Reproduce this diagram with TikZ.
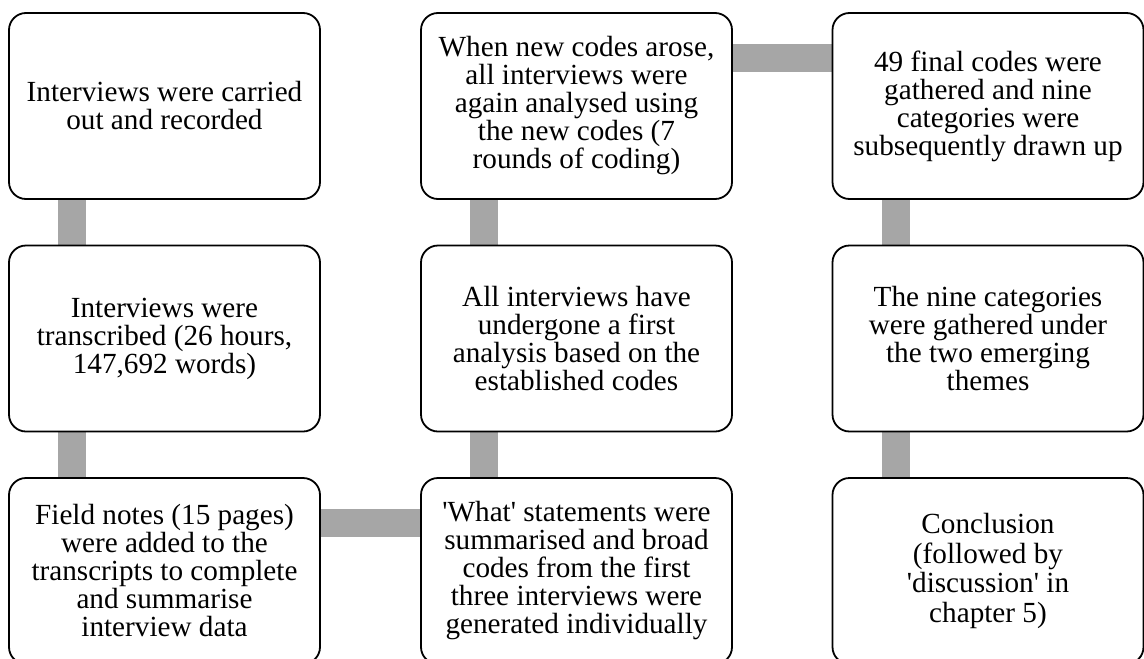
\documentclass[tikz,border=0pt]{standalone}
\usepackage{fontspec}
\newfontfamily\boxfont{Liberation Serif}
\usetikzlibrary{backgrounds}
\definecolor{bargray}{RGB}{166,166,166}
\tikzset{
  stepbox/.style={draw=black, line width=1.8pt, fill=white, rounded corners=17pt,
    minimum width=311pt, minimum height=186pt, inner sep=0pt, align=center,
    font=\boxfont\fontsize{29.2pt}{28pt}\selectfont},
  loosebox/.style={stepbox, font=\boxfont\fontsize{29.2pt}{29.7pt}\selectfont},
  bar/.style={draw=bargray, line width=28pt}
}
\begin{document}
\begin{tikzpicture}[x=1pt, y=-1pt]
\useasboundingbox (0,0) rectangle (1144,659);
% column 1
\node[stepbox] (a1) at (164.5,106) {Interviews were carried\\out and recorded};
\node[stepbox] (a2) at (164.5,338.5) {Interviews were\\transcribed (26 hours,\\147,692 words)};
\node[stepbox] (a3) at (164.5,571) {Field notes (15 pages)\\were added to the\\transcripts to complete\\and summarise\\interview data};
% column 2
\node[stepbox] (b3) at (576.5,571) {'What' statements were\\summarised and broad\\codes from the first\\three interviews were\\generated individually};
\node[stepbox] (b2) at (576.5,338.5) {All interviews have\\undergone a first\\analysis based on the\\established codes};
\node[stepbox] (b1) at (576.5,106) {When new codes arose,\\all interviews were\\again analysed using\\the new codes (7\\rounds of coding)};
% column 3
\node[stepbox] (c1) at (988,106) {49 final codes were\\gathered and nine\\categories were\\subsequently drawn up};
\node[stepbox] (c2) at (988,338.5) {The nine categories\\were gathered under\\the two emerging\\themes};
\node[loosebox] (c3) at (988,571) {Conclusion\\(followed by\\'discussion' in\\chapter 5)};
% connecting bars behind the boxes
\begin{scope}[on background layer]
\draw[bar] ([xshift=64pt]a1.south west) -- ([xshift=64pt]a2.north west);
\draw[bar] ([xshift=64pt]a2.south west) -- ([xshift=64pt]a3.north west);
\draw[bar] ([yshift=-46pt]a3.north east) -- ([yshift=-46pt]b3.north west);
\draw[bar] ([xshift=64pt]b3.north west) -- ([xshift=64pt]b2.south west);
\draw[bar] ([xshift=64pt]b2.north west) -- ([xshift=64pt]b1.south west);
\draw[bar] ([yshift=-46pt]b1.north east) -- ([yshift=-46pt]c1.north west);
\draw[bar] ([xshift=64pt]c1.south west) -- ([xshift=64pt]c2.north west);
\draw[bar] ([xshift=64pt]c2.south west) -- ([xshift=64pt]c3.north west);
\end{scope}
\end{tikzpicture}
\end{document}
